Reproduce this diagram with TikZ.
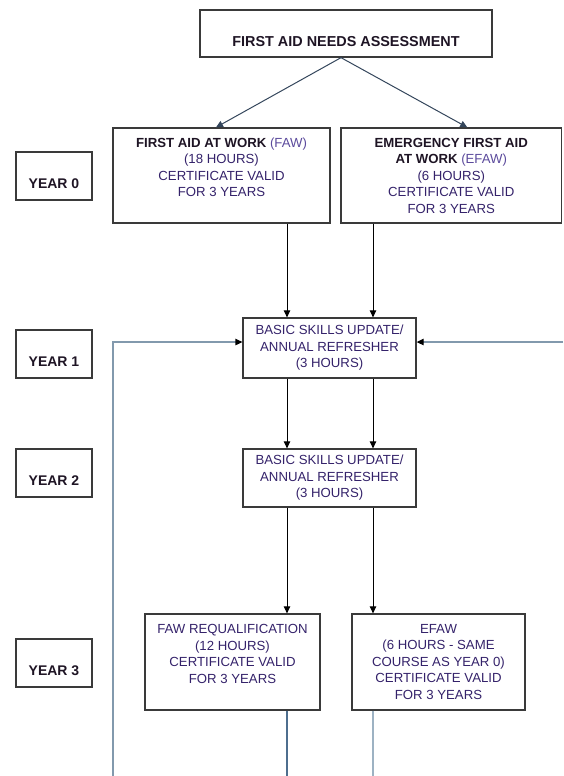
\documentclass[tikz,border=0pt]{standalone}
\usepackage{fontspec}
\setmainfont{Liberation Sans}
\usetikzlibrary{arrows.meta}

\definecolor{boxline}{HTML}{3A3A3A}
\definecolor{txtpurple}{HTML}{34226A}
\definecolor{txtlight}{HTML}{5B4A9C}
\definecolor{headtxt}{HTML}{1E1424}
\definecolor{steel}{HTML}{8299AD}
\definecolor{steeldark}{HTML}{4E6E8E}
\definecolor{steellight}{HTML}{9DB2C3}
\definecolor{navyline}{HTML}{34465C}

\begin{document}
\begin{tikzpicture}[x=1pt, y=-1pt, >={Triangle[length=7pt,width=6.5pt]},
    box/.style={draw=boxline, line width=1.3pt, inner sep=0pt},
    course/.style={box, align=center, text=txtpurple, font=\fontsize{13.2}{16.5}\selectfont},
    yearbox/.style={box, minimum width=76pt, text height=36pt, text depth=12pt,
      text=headtxt, font=\fontsize{14}{16}\selectfont\bfseries},
    flow/.style={->, line width=1pt, black},
    loopline/.style={line width=1.3pt, steel, -{Triangle[length=7pt,width=6.5pt,black]}}]
  \useasboundingbox (0,0) rectangle (563,776);
  \node[box, minimum width=292pt, text height=37pt, text depth=10pt, text=headtxt,
    font=\fontsize{14.4}{17}\selectfont\bfseries] (nta) at (346,33.5) {FIRST AID NEEDS ASSESSMENT};
  \node[course, minimum width=217pt, minimum height=95pt] (faw) at (221.5,175.5)
    {{\color{headtxt}\bfseries FIRST AID AT WORK} {\color{txtlight}(FAW)}\\(18 HOURS)\\CERTIFICATE VALID\\FOR 3 YEARS\\~};
  \node[course, minimum width=220.5pt, minimum height=95pt] (efaw) at (451.25,175.5)
    {{\color{headtxt}\bfseries EMERGENCY FIRST AID}\\{\color{headtxt}\bfseries AT WORK} {\color{txtlight}(EFAW)}\\(6 HOURS)\\CERTIFICATE VALID\\FOR 3 YEARS};
  \node[course, minimum width=173pt, minimum height=60pt] (ref1) at (329.5,348)
    {BASIC SKILLS UPDATE/\\ANNUAL REFRESHER\\(3 HOURS)};
  \node[course, minimum width=173pt, minimum height=58pt] (ref2) at (329.5,478)
    {BASIC SKILLS UPDATE/\\ANNUAL REFRESHER\\(3 HOURS)};
  \node[course, minimum width=175pt, minimum height=96pt] (faw3) at (232.5,662)
    {FAW REQUALIFICATION\\(12 HOURS)\\CERTIFICATE VALID\\FOR 3 YEARS\\~};
  \node[course, minimum width=173pt, minimum height=96pt] (efaw3) at (438.5,662)
    {EFAW\\(6 HOURS - SAME\\COURSE AS YEAR 0)\\CERTIFICATE VALID\\FOR 3 YEARS};
  \node[yearbox] (year0) at (54,176) {YEAR 0};
  \node[yearbox] (year1) at (54,354) {YEAR 1};
  \node[yearbox] (year2) at (54,473) {YEAR 2};
  \node[yearbox] (year3) at (54,663) {YEAR 3};
  \coordinate (cl) at (287,0);
  \coordinate (cr) at (373,0);
  \coordinate (loopl) at (113,776);
  \coordinate (loopr) at (563,342);
  \draw[flow, navyline] ([xshift=-5pt]nta.south) -- ([xshift=-5.5pt]faw.north);
  \draw[flow, navyline] ([xshift=-5pt]nta.south) -- ([xshift=16pt]efaw.north);
  \draw[flow] (faw.south -| cl) -- (ref1.north -| cl);
  \draw[flow] (efaw.south -| cr) -- (ref1.north -| cr);
  \draw[flow] (ref1.south -| cl) -- (ref2.north -| cl);
  \draw[flow] (ref1.south -| cr) -- (ref2.north -| cr);
  \draw[flow] (ref2.south -| cl) -- (faw3.north -| cl);
  \draw[flow] (ref2.south -| cr) -- (efaw3.north -| cr);
  \draw[loopline] (loopl) |- (ref1.west |- loopr);
  \draw[loopline] (loopr) -- (ref1.east |- loopr);
  \draw[line width=1.2pt, steeldark] (faw3.south -| cl) -- (cl |- loopl);
  \draw[line width=1.2pt, steellight] (efaw3.south -| cr) -- (cr |- loopl);
\end{tikzpicture}
\end{document}
